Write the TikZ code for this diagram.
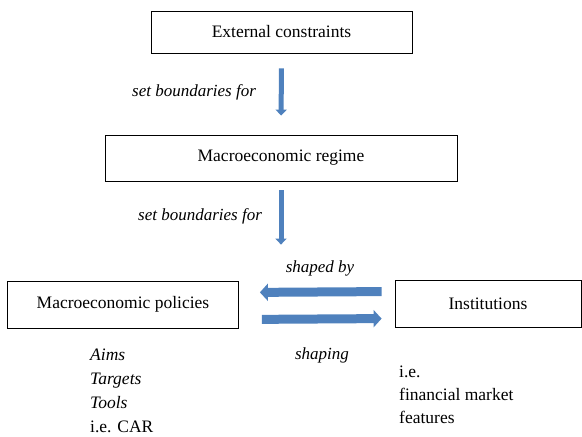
\documentclass[tikz,border=0pt]{standalone}
\usepackage{fontspec}
\setmainfont{Liberation Serif}
\usetikzlibrary{arrows.meta}
\definecolor{arrowblue}{RGB}{79,129,189}

\begin{document}
\begin{tikzpicture}[x=1pt,y=-1pt,
    box/.style={draw,thick,minimum height=42pt,inner sep=0pt,font=\fontsize{17.5}{21}\selectfont},
    lbl/.style={font=\fontsize{17}{20}\selectfont\itshape},
    txt/.style={align=left,anchor=north west,inner sep=0pt,font=\fontsize{17.5}{24}\selectfont},
    vbar/.style={arrowblue,line width=5pt,-{Triangle[width=11pt,length=6pt]}},
    hbar/.style={arrowblue,line width=9pt,-{Triangle[width=17pt,length=8pt]}}]
    \useasboundingbox (0,0) rectangle (582,437);
    \coordinate (E) at (281.5, 32);
    \coordinate (M) at (281, 158);
    \coordinate (P) at (123, 304.5);
    \coordinate (I) at (488, 303.5);
    \node[box,minimum width=261pt] (ext) at (E) {External constraints};
    \node[box,minimum width=352pt,minimum height=46pt] (regime) at (M) {Macroeconomic regime};
    \node[box,minimum width=231pt,minimum height=47pt] (pol) at (P) {Macroeconomic policies};
    \node[box,minimum width=186pt,minimum height=47pt] (inst) at (I) {Institutions};
    \draw[vbar,shorten <=15pt,shorten >=19pt] (ext.south) -- (regime.north);
    \draw[vbar,shorten <=9pt,shorten >=36pt] (regime.south) -- (regime.south |- pol.north);
    \draw[hbar,shorten <=13pt,shorten >=21pt] ([yshift=12pt]inst.west) -- ([yshift=12pt]pol.east);
    \draw[hbar,shorten <=23pt,shorten >=13pt] ([yshift=-15pt]pol.east) -- ([yshift=-15pt]inst.west);
    \node[lbl] (sb1) at (194, 92) {set boundaries for};
    \node[lbl] (sb2) at (200, 216) {set boundaries for};
    \node[lbl] (shby) at (320, 268) {shaped by};
    \node[lbl] (shng) at (322, 355) {shaping};
    \node[txt] (aims) at (90, 349) {\itshape Aims\\ \itshape Targets\\ \itshape Tools\\ i.e. CAR};
    \node[txt,font=\fontsize{17.5}{23}\selectfont] (feat) at (399, 366) {i.e.\\ financial market\\ features};
\end{tikzpicture}
\end{document}
